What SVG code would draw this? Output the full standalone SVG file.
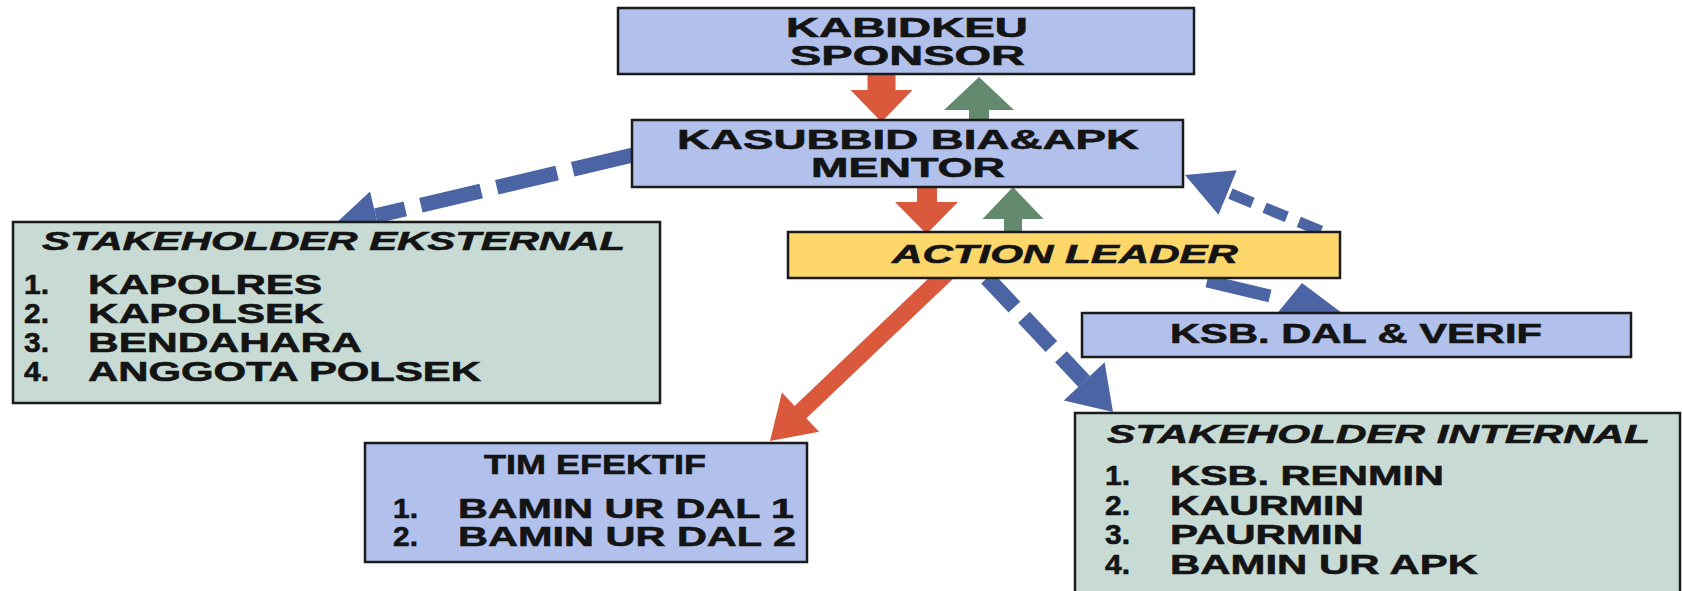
<svg xmlns="http://www.w3.org/2000/svg" width="1682" height="591" viewBox="0 0 1682 591">
<style>
.box{stroke:#1b1b1b;stroke-width:2.5}
.blue{fill:#b2c1ec}
.green{fill:#c7dbd4}
.yellow{fill:#fdd76a}
.t{font-family:"Liberation Sans",Arial,sans-serif;font-weight:bold;fill:#141414;stroke:#141414;stroke-width:0.6}
.ti{font-style:italic}
.s26{font-size:26px}
.s27{font-size:27px}
.s28{font-size:28px}
.red{fill:#da583c}
.grn{fill:#63896f}
.dash{stroke:#4b64a3;fill:none}
.bh{fill:#4b64a3}
</style>
<rect width="1682" height="591" fill="#ffffff"/>
<g id="connectors">
  <polygon id="arrow-sponsor-mentor" class="red" points="867.5,74 895.5,74 895.5,90 912.5,90 881.5,122 850.5,90 867.5,90"/>
  <polygon id="arrow-mentor-sponsor" class="grn" points="969,120 989,120 989,110 1014,110 979,77 944,110 969,110"/>
  <polygon id="arrow-mentor-leader" class="red" points="917,187 937,187 937,202 958,202 926.5,234 895,202 917,202"/>
  <polygon id="arrow-leader-mentor" class="grn" points="1004,233 1022,233 1022,219 1043.5,219 1013,187 982.5,219 1004,219"/>
  <polygon id="arrow-leader-tim" class="red" points="958.9,273.2 806.4,418.3 819.1,431.7 770,441 781.9,392.5 794.6,405.9 947.1,260.8"/>
  <g id="arrow-mentor-eksternal">
    <line class="dash" x1="633" y1="155" x2="375.8" y2="215.9" stroke-width="15" stroke-dasharray="62 16"/>
    <polygon class="bh" points="381.6,240.2 333,226 370,191.6"/>
  </g>
  <g id="arrow-leader-internal">
    <line class="dash" x1="987" y1="278" x2="1084.2" y2="381.4" stroke-width="16" stroke-dasharray="40 14"/>
    <polygon class="bh" points="1104.6,362.2 1113,412 1063.8,400.6"/>
  </g>
  <g id="arrow-ksb-mentor">
    <line class="dash" x1="1321" y1="231" x2="1227.6" y2="192.5" stroke-width="11" stroke-dasharray="24 13"/>
    <polygon class="bh" points="1236.7,170.3 1185,175 1218.5,214.7"/>
  </g>
  <g id="arrow-leader-ksb">
    <line class="dash" x1="1207" y1="281" x2="1270" y2="296" stroke-width="13"/>
    <polygon class="bh" points="1302,283 1346,316 1275,316"/>
  </g>
</g>
<g id="node-kabidkeu">
  <rect class="box blue" x="618" y="8" width="576" height="66"/>
  <text class="t s27" x="786" y="37" textLength="242" lengthAdjust="spacingAndGlyphs">KABIDKEU</text>
  <text class="t s27" x="790" y="65" textLength="235" lengthAdjust="spacingAndGlyphs">SPONSOR</text>
</g>
<g id="node-kasubbid">
  <rect class="box blue" x="632" y="120" width="551" height="67"/>
  <text class="t s27" x="677" y="149" textLength="462" lengthAdjust="spacingAndGlyphs">KASUBBID BIA&amp;APK</text>
  <text class="t s27" x="811" y="177" textLength="194" lengthAdjust="spacingAndGlyphs">MENTOR</text>
</g>
<g id="node-action-leader">
  <rect class="box yellow" x="788" y="232" width="552" height="46"/>
  <text class="t ti s26" x="892" y="263" textLength="346" lengthAdjust="spacingAndGlyphs">ACTION LEADER</text>
</g>
<g id="node-ksb-dal">
  <rect class="box blue" x="1082" y="313" width="549" height="44"/>
  <text class="t s27" x="1170" y="343" textLength="372" lengthAdjust="spacingAndGlyphs">KSB. DAL &amp; VERIF</text>
</g>
<g id="node-eksternal">
  <rect class="box green" x="13" y="222" width="647" height="181"/>
  <text class="t ti s26" x="42" y="250" textLength="583" lengthAdjust="spacingAndGlyphs">STAKEHOLDER EKSTERNAL</text>
  <text class="t s28" x="24" y="294" textLength="25" lengthAdjust="spacingAndGlyphs">1.</text>
  <text class="t s28" x="88" y="294" textLength="234" lengthAdjust="spacingAndGlyphs">KAPOLRES</text>
  <text class="t s28" x="24" y="323" textLength="25" lengthAdjust="spacingAndGlyphs">2.</text>
  <text class="t s28" x="88" y="323" textLength="236" lengthAdjust="spacingAndGlyphs">KAPOLSEK</text>
  <text class="t s28" x="24" y="352" textLength="25" lengthAdjust="spacingAndGlyphs">3.</text>
  <text class="t s28" x="88" y="352" textLength="274" lengthAdjust="spacingAndGlyphs">BENDAHARA</text>
  <text class="t s28" x="24" y="381" textLength="25" lengthAdjust="spacingAndGlyphs">4.</text>
  <text class="t s28" x="88" y="381" textLength="393" lengthAdjust="spacingAndGlyphs">ANGGOTA POLSEK</text>
</g>
<g id="node-tim-efektif">
  <rect class="box blue" x="365" y="443" width="442" height="119"/>
  <text class="t s27" x="484" y="474" textLength="222" lengthAdjust="spacingAndGlyphs">TIM EFEKTIF</text>
  <text class="t s27" x="393" y="518" textLength="25" lengthAdjust="spacingAndGlyphs">1.</text>
  <text class="t s27" x="458" y="518" textLength="336" lengthAdjust="spacingAndGlyphs">BAMIN UR DAL 1</text>
  <text class="t s27" x="393" y="546" textLength="25" lengthAdjust="spacingAndGlyphs">2.</text>
  <text class="t s27" x="458" y="546" textLength="338" lengthAdjust="spacingAndGlyphs">BAMIN UR DAL 2</text>
</g>
<g id="node-internal">
  <rect class="box green" x="1075" y="413" width="605" height="190"/>
  <text class="t ti s26" x="1107" y="443" textLength="543" lengthAdjust="spacingAndGlyphs">STAKEHOLDER INTERNAL</text>
  <text class="t s28" x="1105" y="485" textLength="25" lengthAdjust="spacingAndGlyphs">1.</text>
  <text class="t s28" x="1170" y="485" textLength="274" lengthAdjust="spacingAndGlyphs">KSB. RENMIN</text>
  <text class="t s28" x="1105" y="514.5" textLength="25" lengthAdjust="spacingAndGlyphs">2.</text>
  <text class="t s28" x="1170" y="514.5" textLength="194" lengthAdjust="spacingAndGlyphs">KAURMIN</text>
  <text class="t s28" x="1105" y="544" textLength="25" lengthAdjust="spacingAndGlyphs">3.</text>
  <text class="t s28" x="1170" y="544" textLength="193" lengthAdjust="spacingAndGlyphs">PAURMIN</text>
  <text class="t s28" x="1105" y="573.5" textLength="25" lengthAdjust="spacingAndGlyphs">4.</text>
  <text class="t s28" x="1170" y="573.5" textLength="308" lengthAdjust="spacingAndGlyphs">BAMIN UR APK</text>
</g>
</svg>
